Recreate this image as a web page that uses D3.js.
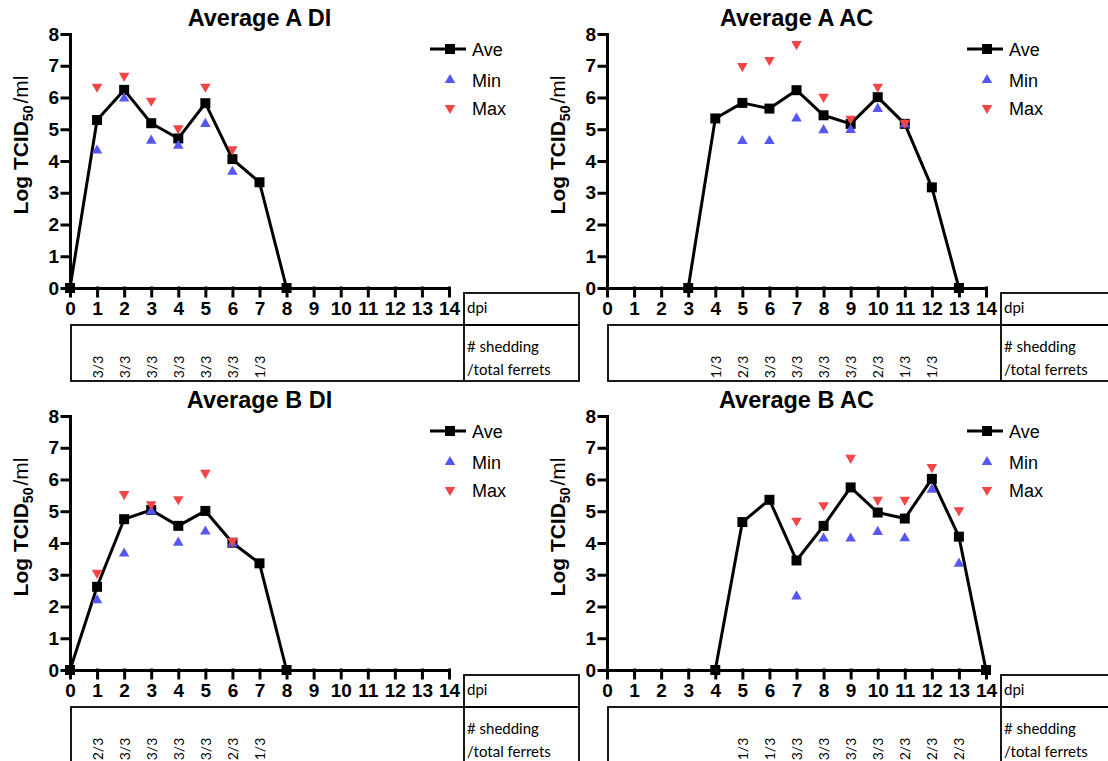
<!DOCTYPE html>
<html>
<head>
<meta charset="utf-8">
<script src="https://cdn.jsdelivr.net/npm/d3@7/dist/d3.min.js"></script>
<style>
body{margin:0;background:#fff;}
svg{display:block;}
</style>
</head>
<body>
<div id="chart"></div>
<script>
// tick labels
var dayTicks = [0,1,2,3,4,5,6,7,8,9,10,11,12,13,14];
var yTicks = [0,1,2,3,4,5,6,7,8];

// Average A DI
var aDiDays = [0,1,2,3,4,5,6,7,8];
var aDiAve = [0,5.29,6.24,5.19,4.71,5.82,4.06,3.33,0];
var aDiMin = [null,4.33,5.97,4.64,4.48,5.17,3.66,null,null];
var aDiMax = [null,6.34,6.68,5.9,5.03,6.34,4.37,null,null];
var aDiShedDays = [1,2,3,4,5,6,7];
var aDiShed = ["3/3","3/3","3/3","3/3","3/3","3/3","1/3"];

// Average A AC
var aAcDays = [3,4,5,6,7,8,9,10,11,12,13];
var aAcAve = [0,5.34,5.83,5.65,6.23,5.44,5.17,6.01,5.17,3.17,0];
var aAcMin = [null,null,4.63,4.63,5.34,4.97,4.98,5.64,5.15,null,null];
var aAcMax = [null,null,6.99,7.18,7.68,6.02,5.33,6.34,5.2,null,null];
var aAcShedDays = [4,5,6,7,8,9,10,11,12];
var aAcShed = ["1/3","2/3","3/3","3/3","3/3","3/3","2/3","1/3","1/3"];

// Average B DI
var bDiDays = [0,1,2,3,4,5,6,7,8];
var bDiAve = [0,2.62,4.75,5.04,4.54,5.01,4.01,3.36,0];
var bDiMin = [null,2.2,3.67,4.99,4.01,4.36,3.98,null,null];
var bDiMax = [null,3.06,5.54,5.22,5.38,6.21,4.06,null,null];
var bDiShedDays = [1,2,3,4,5,6,7];
var bDiShed = ["2/3","3/3","3/3","3/3","3/3","2/3","1/3"];

// Average B AC
var bAcDays = [4,5,6,7,8,9,10,11,12,13,14];
var bAcAve = [0,4.66,5.36,3.45,4.54,5.75,4.96,4.77,6.02,4.2,0];
var bAcMin = [null,null,null,2.32,4.14,4.14,4.35,4.15,5.68,3.35,null];
var bAcMax = [null,null,null,4.7,5.19,6.68,5.36,5.36,6.39,5.03,null];
var bAcShedDays = [5,6,7,8,9,10,11,12,13];
var bAcShed = ["1/3","1/3","3/3","3/3","3/3","3/3","2/3","2/3","2/3"];

var blue = "#5656f2", red = "#f24646";
var af = "'Liberation Sans', Arial, sans-serif";
var tf = "Lato, 'Open Sans', sans-serif";

var panels = [
	{title:"Average A DI", ox:0, oy:0, days:aDiDays, ave:aDiAve, min:aDiMin, max:aDiMax, shedDays:aDiShedDays, shed:aDiShed},
	{title:"Average A AC", ox:537, oy:0, days:aAcDays, ave:aAcAve, min:aAcMin, max:aAcMax, shedDays:aAcShedDays, shed:aAcShed},
	{title:"Average B DI", ox:0, oy:382, days:bDiDays, ave:bDiAve, min:bDiMin, max:bDiMax, shedDays:bDiShedDays, shed:bDiShed},
	{title:"Average B AC", ox:537, oy:382, days:bAcDays, ave:bAcAve, min:bAcMin, max:bAcMax, shedDays:bAcShedDays, shed:bAcShed}
];

var svg = d3.select("#chart").append("svg")
	.attr("width", 1108)
	.attr("height", 761);

var square = d3.symbol().type(d3.symbolSquare).size(100);
var tri = d3.symbol().type(d3.symbolTriangle).size(48);

panels.forEach(function(p){
	var x = d3.scaleLinear().domain([0,14]).range([p.ox+70, p.ox+449]);
	var y = d3.scaleLinear().domain([0,8]).range([p.oy+288, p.oy+34]);
	var g = svg.append("g");

	// table under the axis
	var cellL = x(14)+15, cellR = p.ox+579;
	if (p.ox > 0) cellR = 1120;
	var tb = g.append("g").attr("fill","none").attr("stroke","#000").attr("stroke-width",1.8);
	tb.append("rect").attr("x",cellL).attr("y",p.oy+293).attr("width",cellR-cellL).attr("height",32);
	tb.append("rect").attr("x",x(0)+1).attr("y",p.oy+325).attr("width",cellR-x(0)-1).attr("height",56);
	tb.append("line").attr("x1",cellL).attr("x2",cellL).attr("y1",p.oy+325).attr("y2",p.oy+381);

	g.append("text").attr("x",cellL+3).attr("y",p.oy+313).attr("font-family",tf).attr("font-size",15).text("dpi");
	g.append("text").attr("x",cellL+3).attr("y",p.oy+352).attr("font-family",tf).attr("font-size",15).text("# shedding");
	g.append("text").attr("x",cellL+3).attr("y",p.oy+375).attr("font-family",tf).attr("font-size",15).text("/total ferrets");

	g.selectAll(".shed").data(p.shed).enter().append("text")
		.attr("font-family",tf).attr("font-size",14)
		.attr("text-anchor","middle")
		.attr("dominant-baseline","central")
		.attr("transform",function(d,i){ return "translate("+x(p.shedDays[i])+","+(p.oy+367)+") rotate(-90)"; })
		.text(function(d){ return d; });

	// axes
	var xa = g.append("g").attr("transform","translate(0,"+y(0)+")")
		.call(d3.axisBottom(x).tickValues(dayTicks).tickSize(8).tickSizeOuter(0).tickPadding(6).tickFormat(d3.format("d")));
	var ya = g.append("g").attr("transform","translate("+x(0)+",0)")
		.call(d3.axisLeft(y).tickValues(yTicks).tickSize(8).tickSizeOuter(0).tickPadding(3).tickFormat(d3.format("d")));
	[xa,ya].forEach(function(a){
		a.selectAll("path,line").attr("stroke","#000").attr("stroke-width",3).attr("stroke-linecap","square");
		a.selectAll("text").attr("fill","#000").attr("font-family",af)
			.attr("font-weight","bold").attr("font-size",19);
	});

	// title
	g.append("text").attr("x",(x(0)+x(14))/2).attr("y",p.oy+26)
		.attr("text-anchor","middle").attr("font-family",af)
		.attr("font-weight","bold").attr("font-size",23.5).text(p.title);

	// y label
	var yl = g.append("text")
		.attr("transform","translate("+(p.ox+28)+","+(p.oy+145)+") rotate(-90)")
		.attr("text-anchor","middle").attr("font-family",af)
		.attr("font-size",21);
	yl.append("tspan").attr("font-weight","bold").text("Log TCID");
	yl.append("tspan").attr("font-weight","bold").attr("font-size",14).attr("dy",5).text("50");
	yl.append("tspan").attr("dy",-5).attr("dx",2).text("/ml");

	// series
	var pts = p.days.map(function(d,i){ return {d:d, ave:p.ave[i], min:p.min[i], max:p.max[i]}; });
	g.append("path").datum(pts)
		.attr("fill","none").attr("stroke","#000").attr("stroke-width",3).attr("stroke-linejoin","round")
		.attr("d", d3.line().x(function(d){ return x(d.d); }).y(function(d){ return y(d.ave); }));
	g.selectAll(".ave").data(pts).enter().append("path")
		.attr("d",square).attr("fill","#000")
		.attr("transform",function(d){ return "translate("+x(d.d)+","+y(d.ave)+")"; });
	g.selectAll(".mn").data(pts.filter(function(d){ return d.min != null; })).enter().append("path")
		.attr("d",tri).attr("fill",blue)
		.attr("transform",function(d){ return "translate("+x(d.d)+","+y(d.min)+")"; });
	g.selectAll(".mx").data(pts.filter(function(d){ return d.max != null; })).enter().append("path")
		.attr("d",tri).attr("fill",red)
		.attr("transform",function(d){ return "translate("+x(d.d)+","+y(d.max)+") rotate(180)"; });

	// legend
	var lx = p.ox+450;
	var leg = g.append("g");
	leg.append("line").attr("x1",lx-20).attr("x2",lx+16).attr("y1",p.oy+49).attr("y2",p.oy+49)
		.attr("stroke","#000").attr("stroke-width",3);
	leg.append("path").attr("d",square).attr("transform","translate("+lx+","+(p.oy+49)+")");
	leg.append("path").attr("d",tri).attr("fill",blue).attr("transform","translate("+lx+","+(p.oy+80)+")");
	leg.append("path").attr("d",tri).attr("fill",red).attr("transform","translate("+lx+","+(p.oy+108)+") rotate(180)");
	[["Ave",49],["Min",80],["Max",108]].forEach(function(t){
		leg.append("text").attr("x",lx+22).attr("y",p.oy+t[1]+6.5)
			.attr("font-family",af).attr("font-size",18).text(t[0]);
	});
});
</script>
</body>
</html>
